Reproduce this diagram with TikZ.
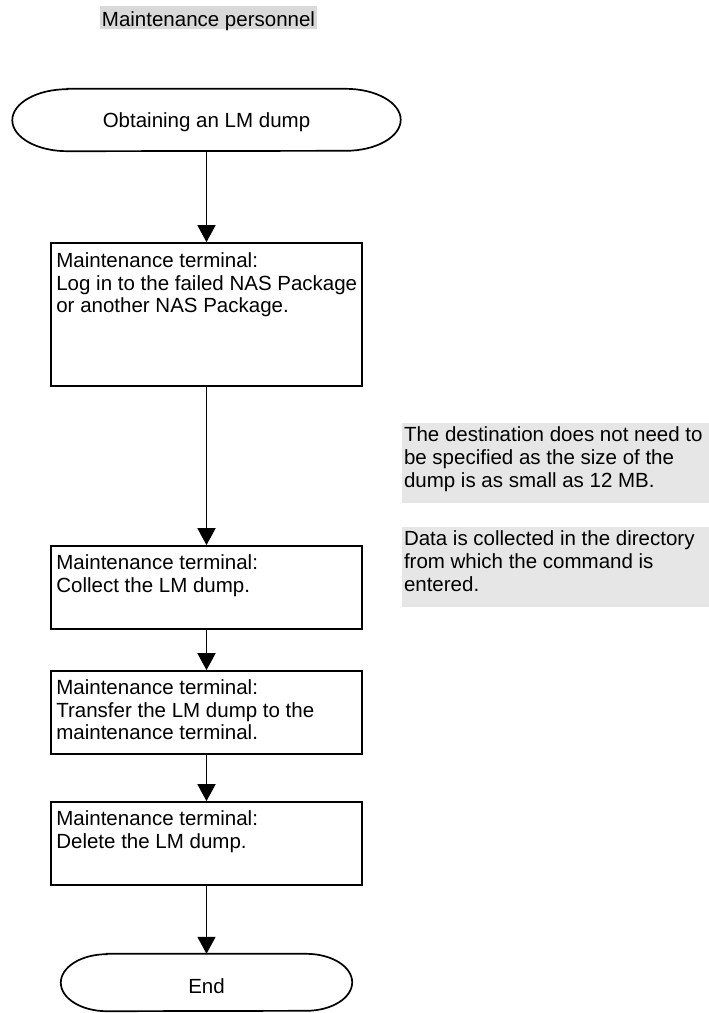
\documentclass[tikz,border=0pt]{standalone}
\usepackage{fontspec}
\setmainfont{Liberation Sans}
\usetikzlibrary{arrows.meta}
\definecolor{titlegray}{RGB}{217,217,217}
\definecolor{notegray}{RGB}{230,230,230}
\newcommand\termpath[3]{%
  \draw[line] ([xshift=#2]#1.north west) -- ([xshift=-#2]#1.north east)
    arc[start angle=90,end angle=-90,x radius=#2,y radius=#3]
    -- ([xshift=#2]#1.south west)
    arc[start angle=270,end angle=90,x radius=#2,y radius=#3] -- cycle;}
\begin{document}
\begin{tikzpicture}[x=1pt,y=1pt,
  font=\fontsize{20.5pt}{22.8pt}\selectfont,
  line/.style={line width=1.7pt, black},
  arr/.style={line, -{Triangle[width=18pt,length=17pt]}},
  stepbox/.style={draw, line width=1.7pt, rectangle, inner sep=0pt, minimum width=311pt},
  boxtext/.style={anchor=north west, inner sep=0pt, align=left},
  note/.style={fill=notegray, inner sep=0pt, minimum width=307pt, minimum height=80pt},
  term/.style={rectangle, inner sep=0pt},
  titlebox/.style={fill=titlegray, inner sep=0pt, minimum width=217pt, minimum height=23pt, text height=20.5pt, text depth=2.5pt}
]
\useasboundingbox (0,0) rectangle (709,-1013);

% title
\node[titlebox] (title) at (208.5,-17.5) {Maintenance personnel};

% start terminator
\node[term, minimum width=388pt, minimum height=62pt, text height=18pt, text depth=4pt] (start) at (206.5,-120) {Obtaining an LM dump};
\termpath{start}{55pt}{31pt}

% process boxes
\node[stepbox, minimum height=143pt] (b1) at (206.5,-314.5) {};
\node[boxtext] (t1) at ([xshift=6pt,yshift=-10pt]b1.north west) {Maintenance terminal:\\Log in to the failed NAS Package\\or another NAS Package.};

\node[stepbox, minimum height=83pt] (b2) at (206.5,-587.5) {};
\node[boxtext] (t2) at ([xshift=6pt,yshift=-9pt]b2.north west) {Maintenance terminal:\\Collect the LM dump.};

\node[stepbox, minimum height=83pt] (b3) at (206.5,-712.5) {};
\node[boxtext] (t3) at ([xshift=6pt,yshift=-9pt]b3.north west) {Maintenance terminal:\\Transfer the LM dump to the\\maintenance terminal.};

\node[stepbox, minimum height=83pt] (b4) at (206.5,-843.5) {};
\node[boxtext] (t4) at ([xshift=6pt,yshift=-9pt]b4.north west) {Maintenance terminal:\\Delete the LM dump.};

% end terminator
\node[term, minimum width=291pt, minimum height=57pt, text height=25pt, text depth=4pt] (end) at (206.5,-982.5) {End};
\termpath{end}{46pt}{28.5pt}

% connectors
\draw[arr] (start.south) -- (b1.north);
\draw[arr] (b1.south) -- (b2.north);
\draw[arr] (b2.south) -- (b3.north);
\draw[arr] (b3.south) -- (b4.north);
\draw[arr] (b4.south) -- (end.north);

% notes
\node[note] (n1) at (555.5,-463) {};
\node[boxtext] (n1t) at ([xshift=2pt,yshift=-4pt]n1.north west) {The destination does not need to\\be specified as the size of the\\dump is as small as 12 MB.};
\node[note] (n2) at (555.5,-567) {};
\node[boxtext] (n2t) at ([xshift=2pt,yshift=-4pt]n2.north west) {Data is collected in the directory\\from which the command is\\entered.};
\end{tikzpicture}
\end{document}
